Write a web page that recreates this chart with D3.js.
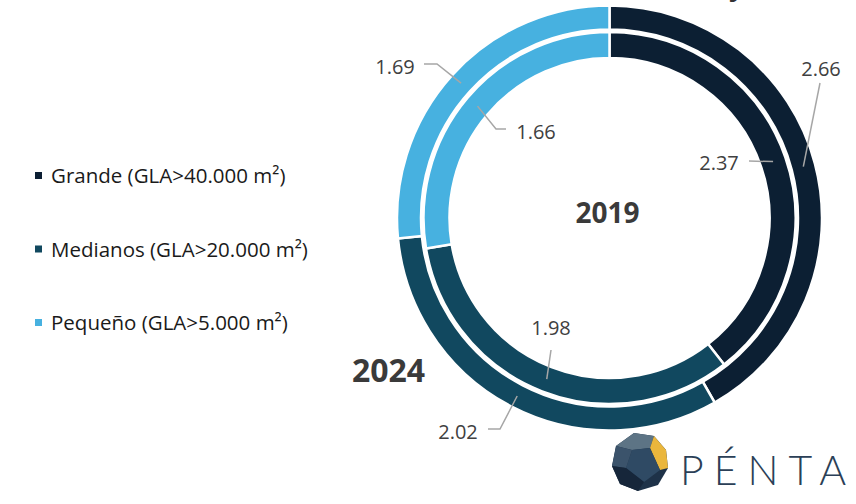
<!DOCTYPE html>
<html>
<head>
<meta charset="utf-8">
<script src="https://cdn.jsdelivr.net/npm/d3@7"></script>
<style>
  html, body { margin: 0; padding: 0; background: #ffffff; }
  svg { display: block; }
</style>
</head>
<body>
<svg id="chart" width="856" height="504"></svg>
<script>
// Segment names (legend order) and values per year
const categories = ["Grande (GLA>40.000 m²)", "Medianos (GLA>20.000 m²)", "Pequeño (GLA>5.000 m²)"];
const values2024 = [2.66, 2.02, 1.69];
const values2019 = [2.37, 1.98, 1.66];
const years = ["2024", "2019"];

const colors = ["#0c1f33", "#11485f", "#47b1e0"];

const svg = d3.select("#chart");
const cx = 609.5, cy = 218;

// Ring geometry: outer ring = 2024, inner ring = 2019
const rings = [
  { year: years[0], values: values2024, inner: 188.5, outer: 212.5 },
  { year: years[1], values: values2019, inner: 160, outer: 186 }
];

// Label placement (offset of each value label from the chart centre, plus leader elbows)
const labelLayout = {
  "2024": [
    { tx: 211.5, ty: -150, path: [[210.5, -135]] },
    { tx: -151.5, ty: 213, path: [[-121.5, 211], [-109.5, 211]] },
    { tx: -214.5, ty: -152, path: [[-185.5, -154], [-172.5, -154]] }
  ],
  "2019": [
    { tx: 109.5, ty: -56, path: [[139.5, -57]] },
    { tx: -58.5, ty: 109, path: [[-58.5, 132]] },
    { tx: -73.5, ty: -87, path: [[-103.5, -89], [-113.5, -89]] }
  ]
};

const pie = d3.pie().sort(null).value(d => d);
const g = svg.append("g").attr("transform", `translate(${cx},${cy})`);

rings.forEach(ring => {
  const arc = d3.arc().innerRadius(ring.inner).outerRadius(ring.outer);
  const arcs = pie(ring.values);
  g.append("g").selectAll("path")
    .data(arcs)
    .join("path")
    .attr("d", arc)
    .attr("fill", (d, i) => colors[i])
    .attr("stroke", "#ffffff")
    .attr("stroke-width", 2.5)
    .attr("stroke-linejoin", "miter");

  // Leader lines and value labels
  const lay = labelLayout[ring.year];
  arcs.forEach((d, i) => {
    const c = arc.centroid(d);
    const pts = lay[i].path.concat([c]);
    g.append("path")
      .attr("d", d3.line()(pts))
      .attr("fill", "none")
      .attr("stroke", "#a6a6a6")
      .attr("stroke-width", 1.5);
    g.append("text")
      .attr("x", lay[i].tx)
      .attr("y", lay[i].ty)
      .attr("text-anchor", "middle")
      .attr("dominant-baseline", "central")
      .attr("font-family", "'Open Sans', 'Noto Sans', sans-serif")
      .attr("font-size", 20)
      .attr("fill", "#404040")
      .text(d3.format(".2f")(d.data));
  });
});

// Year captions
svg.append("text")
  .attr("x", 607.5).attr("y", 223)
  .attr("text-anchor", "middle")
  .attr("font-family", "'Open Sans', 'Noto Sans', sans-serif")
  .attr("font-weight", 700)
  .attr("font-size", 28)
  .attr("fill", "#3a3a3a")
  .text(years[1]);

svg.append("text")
  .attr("x", 388.5).attr("y", 382)
  .attr("text-anchor", "middle")
  .attr("font-family", "'Open Sans', 'Noto Sans', sans-serif")
  .attr("font-weight", 700)
  .attr("font-size", 32)
  .attr("fill", "#3a3a3a")
  .text(years[0]);

// Legend
const legend = svg.append("g").selectAll("g")
  .data(categories)
  .join("g")
  .attr("transform", (d, i) => `translate(0, ${183 + i * 73.5})`);

legend.append("rect")
  .attr("x", 35).attr("y", -11)
  .attr("width", 7).attr("height", 7)
  .attr("fill", (d, i) => colors[i]);

legend.append("text")
  .attr("x", 51).attr("y", 0)
  .attr("font-family", "'Open Sans', 'Noto Sans', sans-serif")
  .attr("font-size", 20.5)
  .attr("fill", "#1a1a1a")
  .text(d => d);

// Descender of a heading running off the top edge
svg.append("text")
  .attr("x", 737).attr("y", -5)
  .attr("text-anchor", "middle")
  .attr("font-family", "'Open Sans', sans-serif")
  .attr("font-weight", 700)
  .attr("font-size", 28)
  .attr("fill", "#333333")
  .text("y");

// Brand mark: faceted dodecahedron icon and wordmark
const logo = svg.append("g").attr("transform", "translate(640,462)");
const outline = [[-6,-29],[14,-26],[26,-12],[28,6],[18,23],[-2,29],[-20,22],[-28,4],[-24,-16]];
logo.append("polygon").attr("points", outline.join(" ")).attr("fill", "#1e3248");
logo.append("polygon").attr("points", [[-6,-29],[14,-26],[10,-14],[-8,-12],[-24,-16]].join(" ")).attr("fill", "#5d7485");
logo.append("polygon").attr("points", [[14,-26],[26,-12],[28,6],[20,8],[10,-14]].join(" ")).attr("fill", "#eab63c");
logo.append("polygon").attr("points", [[-8,-12],[10,-14],[20,8],[4,20],[-14,6]].join(" ")).attr("fill", "#2f4a64");
logo.append("polygon").attr("points", [[-24,-16],[-8,-12],[-14,6],[-28,4]].join(" ")).attr("fill", "#3b536b");
logo.append("polygon").attr("points", [[-28,4],[-14,6],[4,20],[-2,29],[-20,22]].join(" ")).attr("fill", "#16263a");

svg.append("text")
  .attr("x", 680).attr("y", 485)
  .attr("font-family", "Lato, 'Open Sans', sans-serif")
  .attr("font-weight", 300)
  .attr("font-size", 41)
  .attr("letter-spacing", 10)
  .attr("fill", "#2b3f57")
  .text("PÉNTA");
</script>
</body>
</html>
